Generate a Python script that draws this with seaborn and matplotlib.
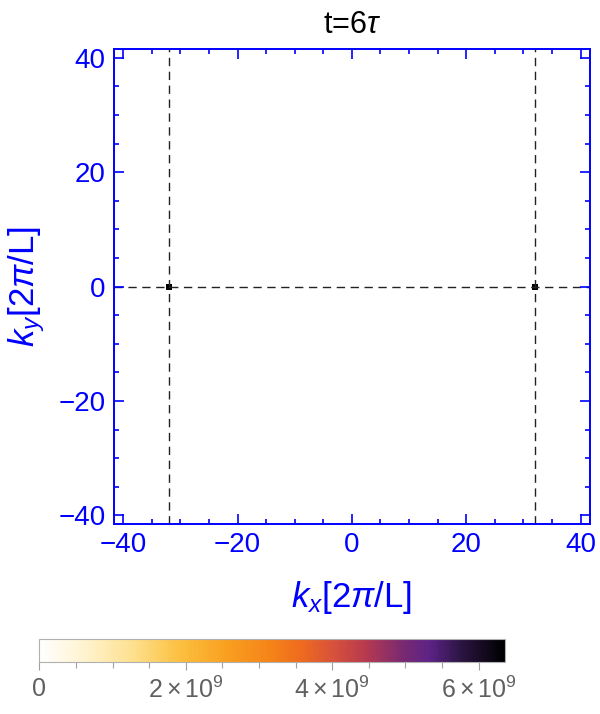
import numpy as np
import pandas as pd
import seaborn as sns
import matplotlib.pyplot as plt
from matplotlib.colors import LinearSegmentedColormap
from matplotlib.ticker import FixedLocator

# grid of wave numbers (units of 2pi/L)
kx_grid = np.arange(-41, 42)
ky_grid = np.arange(41, -42, -1)

# occupied modes at t = 6 tau
peak_kx = [-32, 32]
peak_ky = [0, 0]
peak_amp = [6.36e9, 6.36e9]

x_ticks = [-40, -20, 0, 20, 40]
y_ticks = [-40, -20, 0, 20, 40]
cbar_ticks = [0, 2e9, 4e9, 6e9]
cbar_labels = ['0', r'$2\times10^{9}$', r'$4\times10^{9}$', r'$6\times10^{9}$']

grid = pd.DataFrame(0.0, index=ky_grid, columns=kx_grid)
for kx, ky, a in zip(peak_kx, peak_ky, peak_amp):
    grid.loc[ky, kx] = a

sns.set_theme(style="ticks")
plt.rcParams['font.family'] = ['Liberation Sans', 'DejaVu Sans']
plt.rcParams['mathtext.fontset'] = 'custom'
plt.rcParams['mathtext.rm'] = 'Liberation Sans'
plt.rcParams['mathtext.it'] = 'Liberation Sans:italic'

sunset = LinearSegmentedColormap.from_list('sunset_r', [
    (0.0, '#ffffff'), (0.1, '#fff2cc'), (0.2, '#fee08e'), (0.3, '#fcc040'),
    (0.4, '#f9a020'), (0.5, '#f58218'), (0.56, '#ef6c1e'), (0.63, '#d8523a'),
    (0.7, '#b83a4e'), (0.78, '#7a2a70'), (0.84, '#5c2286'), (0.91, '#2a1440'),
    (1.0, '#000000')])

blue = '#0000ff'
fig = plt.figure(figsize=(6, 7.14), dpi=100)
ax = fig.add_axes([0.19, 0.266, 0.793, 0.665])
cax = fig.add_axes([0.0655, 0.0733, 0.776, 0.0314])

vmax = max(peak_amp)
sns.heatmap(grid, ax=ax, cmap=sunset, vmin=0, vmax=vmax, cbar_ax=cax,
            cbar_kws={'orientation': 'horizontal'},
            xticklabels=False, yticklabels=False)
ax.set_axisbelow(False)


def fx(k):
    return k + 41.5


def fy(k):
    return 41.5 - k


for kx in peak_kx:
    ax.axvline(fx(kx), color='#222222', lw=1.0, ls=(0, (6, 4)), zorder=1)
ax.axhline(fy(peak_ky[0]), color='#222222', lw=1.0, ls=(0, (6, 4)), zorder=1)

ax.set_xlim(fx(-41.6), fx(41.6))
ax.set_ylim(fy(-41.5), fy(41.5))
ax.set_xticks([fx(v) for v in x_ticks])
ax.set_xticklabels([str(v).replace('-', '\u2212') for v in x_ticks])
ax.set_yticks([fy(v) for v in y_ticks])
ax.set_yticklabels([str(v).replace('-', '\u2212') for v in y_ticks], rotation=0)
minor = [v for v in range(-40, 41, 5) if v % 20 != 0]
ax.xaxis.set_minor_locator(FixedLocator([fx(v) for v in minor]))
ax.yaxis.set_minor_locator(FixedLocator([fy(v) for v in minor]))
ax.tick_params(which='both', direction='in', top=True, right=True,
               bottom=True, left=True, color=blue, labelcolor=blue,
               labelsize=20, width=1.2)
ax.tick_params(which='major', length=7, pad=6)
ax.tick_params(which='minor', length=3.5)
for s in ax.spines.values():
    s.set_visible(True)
    s.set_color(blue)
    s.set_linewidth(1.4)

ax.set_xlabel(r'$k_x$[2$\pi$/L]', color=blue, fontsize=25, labelpad=15)
ax.set_ylabel(r'$k_y$[2$\pi$/L]', color=blue, fontsize=25, labelpad=8)
ax.set_title(r't=6$\tau$', fontsize=22, color='black', pad=12)

cb = ax.collections[0].colorbar
cb.outline.set_visible(True)
cb.outline.set_linewidth(0.8)
cb.outline.set_edgecolor('#b0b0b0')
cb.set_ticks(cbar_ticks)
cb.set_ticklabels(cbar_labels)
cax.xaxis.set_minor_locator(FixedLocator(np.arange(0, 6.5e9, 0.5e9)))
cax.tick_params(which='both', direction='out', bottom=True, color='#a0a0a0',
                labelcolor='#606060', labelsize=18, width=0.8)
cax.tick_params(which='major', length=6, pad=5)
cax.tick_params(which='minor', length=4)

fig.savefig('out.png', dpi=100, facecolor='white')
